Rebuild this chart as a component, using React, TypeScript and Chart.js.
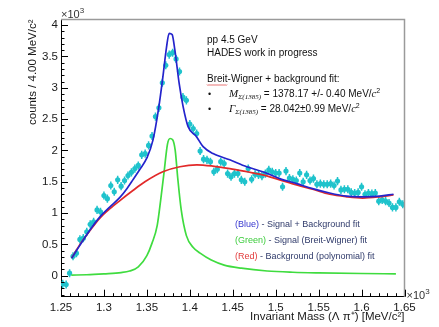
import React, { useEffect, useRef } from 'react';
import { Chart, registerables } from 'chart.js';

Chart.register(...registerables);

// ---------------- data ----------------
const BIN_LOW = 1.25; // GeV/c^2 (x10^3 MeV)
const BIN_WIDTH = 0.004;
// counts per bin (x10^3)
const COUNTS = [
  -0.13, -0.14, 0.04, 0.31, 0.36, 0.58, 0.6, 0.7, 0.82, 0.86,
  1.05, 1.02, 1.28, 1.23, 1.44, 1.34, 1.53, 1.43, 1.52, 1.6,
  1.65, 1.71, 1.76, 1.93, 1.95, 2.08, 2.23, 2.54, 2.68, 3.08,
  3.36, 3.53, 3.56, 3.46, 3.26, 2.85, 2.8, 2.42, 2.35, 2.27,
  1.99, 1.86, 1.85, 1.82, 1.66, 1.7, 1.82, 1.79, 1.63, 1.58,
  1.63, 1.63, 1.53, 1.5, 1.71, 1.54, 1.62, 1.61, 1.59, 1.63,
  1.69, 1.66, 1.64, 1.64, 1.42, 1.67, 1.56, 1.54, 1.52, 1.64,
  1.5, 1.61, 1.52, 1.55, 1.46, 1.47, 1.46, 1.46, 1.47, 1.44,
  1.51, 1.37, 1.38, 1.38, 1.33, 1.32, 1.33, 1.42, 1.3, 1.32,
  1.31, 1.32, 1.19, 1.21, 1.19, 1.16, 1.09, 1.09, 1.18, 1.14,
];
const COUNT_ERROR = 0.065;

// Blue: signal + background fit
const BLUE_X = [
  1.2624, 1.2837, 1.2953, 1.307, 1.3186, 1.3267, 1.3337, 1.3419, 1.35, 1.357,
  1.364, 1.3686, 1.3729, 1.3759, 1.3794, 1.3826, 1.3876, 1.3922, 1.398, 1.4078,
  1.4155, 1.4271, 1.4465, 1.4663, 1.4849, 1.5047, 1.5244, 1.543, 1.5628, 1.5826,
  1.6012, 1.6209, 1.6372,
];
const BLUE_Y = [
  0.28, 0.73, 0.94, 1.1, 1.25, 1.39, 1.53, 1.7, 1.88, 2.16,
  2.7, 3.17, 3.65, 3.87, 3.85, 3.6, 3.07, 2.7, 2.38, 2.22,
  2.06, 1.95, 1.85, 1.74, 1.66, 1.55, 1.47, 1.39, 1.32, 1.27,
  1.26, 1.27, 1.3,
];

// Red: background (polynomial) fit
const RED_X = [
  1.2624, 1.2721, 1.2837, 1.2953, 1.307, 1.3186, 1.3337, 1.3477, 1.3686, 1.3884,
  1.4081, 1.4267, 1.4465, 1.4663, 1.4849, 1.5047, 1.5244, 1.543, 1.5628, 1.5826,
  1.6012, 1.6209, 1.6372,
];
const RED_Y = [
  0.28, 0.5, 0.72, 0.92, 1.07, 1.2, 1.36, 1.5, 1.66, 1.74,
  1.77, 1.75, 1.71, 1.66, 1.61, 1.53, 1.45, 1.38, 1.3, 1.26,
  1.24, 1.26, 1.29,
];

// Green: signal (Breit-Wigner) fit
const GREEN_X = [
  1.262, 1.28, 1.3, 1.32, 1.33, 1.34, 1.35, 1.356, 1.362, 1.366,
  1.37, 1.374, 1.377, 1.38, 1.383, 1.386, 1.39, 1.396, 1.404, 1.412,
  1.425, 1.44, 1.46, 1.49, 1.52, 1.55, 1.6, 1.64,
];
const GREEN_Y = [
  0.01, 0.015, 0.03, 0.05, 0.075, 0.14, 0.32, 0.52, 0.8, 1.2,
  1.65, 2.1, 2.19, 2.17, 2.0, 1.55, 1.05, 0.64, 0.45, 0.36,
  0.25, 0.17, 0.12, 0.075, 0.055, 0.045, 0.035, 0.03,
];

const X_MIN = 1.25;
const X_MAX = 1.65;
const Y_MIN = -0.335;
const Y_MAX = 4.09;

const CYAN = '#1fc3cc';
const BLUE = '#2424cc';
const RED = '#e22a2a';
const GREEN = '#3fdc3f';
const TEXT_NAVY = '#2f3a6a';
const SANS = '"Liberation Sans", Arial, Helvetica, sans-serif';
const SERIF = '"Liberation Serif", "Times New Roman", serif';

const zip = (xs: number[], ys: number[]) => xs.map((x, i) => ({ x, y: ys[i] }));
const binCenter = (i: number) => BIN_LOW + (i + 0.5) * BIN_WIDTH;

type Run = { text: string; font: string; color?: string; dy?: number };
function drawRuns(ctx: CanvasRenderingContext2D, x: number, y: number, runs: Run[], defColor: string) {
  let cx = x;
  for (const r of runs) {
    ctx.font = r.font;
    ctx.fillStyle = r.color || defColor;
    ctx.fillText(r.text, cx, y + (r.dy || 0));
    cx += ctx.measureText(r.text).width;
  }
  return cx;
}

const rootPlugin = {
  id: 'rootStyle',
  beforeDatasetsDraw(chart: any) {
    const { ctx, scales } = chart;
    const xs = scales.x;
    const ys = scales.y;
    ctx.save();
    ctx.strokeStyle = CYAN;
    ctx.lineWidth = 1.5;
    COUNTS.forEach((v, i) => {
      const xc = xs.getPixelForValue(binCenter(i));
      const xl = xs.getPixelForValue(binCenter(i) - BIN_WIDTH * 0.5);
      const xr = xs.getPixelForValue(binCenter(i) + BIN_WIDTH * 0.5);
      const yt = ys.getPixelForValue(v + COUNT_ERROR);
      const yb = ys.getPixelForValue(v - COUNT_ERROR);
      const yc = ys.getPixelForValue(v);
      ctx.beginPath();
      ctx.moveTo(xc, yt);
      ctx.lineTo(xc, yb);
      ctx.moveTo(xl, yc);
      ctx.lineTo(xr, yc);
      ctx.stroke();
    });
    ctx.restore();
  },
  afterDraw(chart: any) {
    const { ctx, chartArea: ca, scales } = chart;
    const xs = scales.x;
    const ys = scales.y;
    ctx.save();
    // frame top/right
    ctx.strokeStyle = '#9a9a9a';
    ctx.lineWidth = 1.5;
    ctx.beginPath();
    ctx.moveTo(ca.left, ca.top);
    ctx.lineTo(ca.right, ca.top);
    ctx.lineTo(ca.right, ca.bottom);
    ctx.stroke();

    // inward ticks
    ctx.strokeStyle = '#000';
    ctx.lineWidth = 1;
    ctx.beginPath();
    for (let k = -3; k <= 40; k++) {
      const y = Math.round(ys.getPixelForValue(k / 10)) + 0.5;
      const len = k % 5 === 0 ? 7 : 3.5;
      ctx.moveTo(ca.left, y);
      ctx.lineTo(ca.left + len, y);
    }
    for (let k = 125; k <= 165; k++) {
      const x = Math.round(xs.getPixelForValue(k / 100)) + 0.5;
      const len = k % 5 === 0 ? 7 : 3.5;
      ctx.moveTo(x, ca.bottom);
      ctx.lineTo(x, ca.bottom - len);
    }
    ctx.stroke();

    ctx.textBaseline = 'alphabetic';
    ctx.textAlign = 'left';
    // x10^3 labels
    drawRuns(ctx, ca.left, ca.top - 2, [
      { text: '\u00d710', font: `11px ${SANS}` },
      { text: '3', font: `8px ${SANS}`, dy: -5 },
    ], '#333');
    drawRuns(ctx, ca.right + 2, ca.bottom + 2, [
      { text: '\u00d710', font: `11px ${SANS}` },
      { text: '3', font: `8px ${SANS}`, dy: -5 },
    ], '#333');

    // info text
    const tx = ca.left + 146;
    const f10 = `10px ${SANS}`;
    drawRuns(ctx, tx, ca.top + 23.5, [{ text: 'pp 4.5 GeV', font: f10 }], '#111');
    drawRuns(ctx, tx, ca.top + 36.5, [{ text: 'HADES work in progress', font: f10 }], '#111');
    drawRuns(ctx, tx, ca.top + 62.5, [{ text: 'Breit-Wigner + background fit:', font: f10 }], '#111');
    // spell-check squiggle under "Breit"
    ctx.font = f10;
    const bw = ctx.measureText('Breit').width;
    ctx.strokeStyle = '#e04040';
    ctx.lineWidth = 0.8;
    ctx.beginPath();
    for (let i = 0; i <= bw; i += 1) {
      const yy = ca.top + 65 + (i % 2 === 0 ? 0 : 1);
      if (i === 0) ctx.moveTo(tx + i, yy);
      else ctx.lineTo(tx + i, yy);
    }
    ctx.stroke();

    drawRuns(ctx, tx + 1, ca.top + 77, [{ text: '\u2022', font: `9px ${SANS}` }], '#111');
    drawRuns(ctx, tx + 1, ca.top + 92, [{ text: '\u2022', font: `9px ${SANS}` }], '#111');
    drawRuns(ctx, tx + 22, ca.top + 77, [
      { text: 'M', font: `italic 11px ${SERIF}` },
      { text: '\u03a3(1385)', font: `italic 7px ${SERIF}`, dy: 2.5 },
      { text: ' = 1378.17 +/- 0.40 MeV/', font: f10 },
      { text: 'c', font: `italic 10.5px ${SERIF}` },
      { text: '2', font: `7px ${SANS}`, dy: -4 },
    ], '#111');
    const gx = drawRuns(ctx, tx + 22, ca.top + 92, [
      { text: '\u0393', font: `italic 11px ${SERIF}` },
      { text: '\u03a3(1385)', font: `italic 7px ${SERIF}`, dy: 2.5 },
      { text: ' = 28.042', font: f10 },
    ], '#111');
    drawRuns(ctx, gx, ca.top + 92, [
      { text: '\u00b10.99 MeV/', font: f10 },
      { text: 'c', font: `italic 10.5px ${SERIF}` },
      { text: '2', font: `7px ${SANS}`, dy: -4 },
    ], '#111');

    // colour legend
    const lx = ca.left + 174;
    const f9 = `9px ${SANS}`;
    drawRuns(ctx, lx, ca.top + 207, [
      { text: '(Blue)', font: f9, color: '#3636d0' },
      { text: ' - Signal + Background fit', font: f9 },
    ], TEXT_NAVY);
    drawRuns(ctx, lx, ca.top + 223.5, [
      { text: '(Green)', font: f9, color: '#3ccc3c' },
      { text: ' - Signal (Breit-Wigner) fit', font: f9 },
    ], TEXT_NAVY);
    drawRuns(ctx, lx, ca.top + 239, [
      { text: '(Red)', font: f9, color: '#e23a3a' },
      { text: ' - Background (polynomial) fit', font: f9 },
    ], TEXT_NAVY);
    ctx.restore();
  },
};

const fmt = (v: number | string) => String(Number(Number(v).toFixed(2)));

export default function App() {
  const ref = useRef<HTMLCanvasElement>(null);
  useEffect(() => {
    const canvas = ref.current;
    if (!canvas) return;
    const tickFont = { family: SANS, size: 11.5 };
    const chart = new Chart(canvas, {
      type: 'scatter',
      data: {
        datasets: [
          {
            label: 'Signal + Background fit',
            data: zip(BLUE_X, BLUE_Y),
            showLine: true,
            borderColor: BLUE,
            borderWidth: 1.7,
            pointRadius: 0,
            cubicInterpolationMode: 'monotone',
            order: 1,
          },
          {
            label: 'Background (polynomial) fit',
            data: zip(RED_X, RED_Y),
            showLine: true,
            borderColor: RED,
            borderWidth: 1.7,
            pointRadius: 0,
            cubicInterpolationMode: 'monotone',
            order: 2,
          },
          {
            label: 'Signal (Breit-Wigner) fit',
            data: zip(GREEN_X, GREEN_Y),
            showLine: true,
            borderColor: GREEN,
            borderWidth: 1.7,
            pointRadius: 0,
            cubicInterpolationMode: 'monotone',
            order: 3,
          },
          {
            label: 'data',
            data: COUNTS.map((v, i) => ({ x: binCenter(i), y: v })),
            showLine: false,
            pointRadius: 2.6,
            pointBackgroundColor: CYAN,
            pointBorderWidth: 0,
            order: 4,
          },
        ],
      } as any,
      options: {
        responsive: false,
        animation: false,
        devicePixelRatio: 1,
        layout: { padding: { left: 0, right: 34.5, top: 19.5, bottom: 0 } },
        plugins: { legend: { display: false }, tooltip: { enabled: false } },
        scales: {
          x: {
            type: 'linear',
            min: X_MIN,
            max: X_MAX,
            afterFit: (s: any) => { s.height = 30.3; },
            grid: { display: false, drawTicks: false },
            border: { color: '#000', width: 1 },
            ticks: {
              stepSize: 0.05,
              padding: 4,
              font: tickFont,
              color: '#1a1a1a',
              maxRotation: 0,
              autoSkip: false,
              includeBounds: false,
              callback: (v: any) => fmt(v),
            },
            title: {
              display: true,
              text: 'Invariant Mass (\u039b \u03c0\u207a) [MeV/c\u00b2]',
              align: 'end',
              font: { family: SANS, size: 11.5 },
              color: '#1a1a1a',
              padding: { top: 0, bottom: 3.6 },
            },
          },
          y: {
            type: 'linear',
            min: Y_MIN,
            max: Y_MAX,
            afterFit: (s: any) => { s.width = 61; },
            grid: { display: false, drawTicks: false },
            border: { color: '#000', width: 1 },
            ticks: {
              stepSize: 0.5,
              padding: 3,
              font: tickFont,
              color: '#1a1a1a',
              includeBounds: false,
              callback: (v: any) => fmt(v),
            },
            title: {
              display: true,
              text: 'counts / 4.00 MeV/c\u00b2',
              align: 'end',
              font: { family: SANS, size: 11.5 },
              color: '#1a1a1a',
              padding: { top: 25.6, bottom: 0 },
            },
          },
        },
      } as any,
      plugins: [rootPlugin],
    });
    return () => chart.destroy();
  }, []);
  return (
    <div style={{ position: 'fixed', left: 0, top: 0, width: 439, height: 327, background: '#fff' }}>
      <canvas ref={ref} width={439} height={327} style={{ display: 'block' }} />
    </div>
  );
}
